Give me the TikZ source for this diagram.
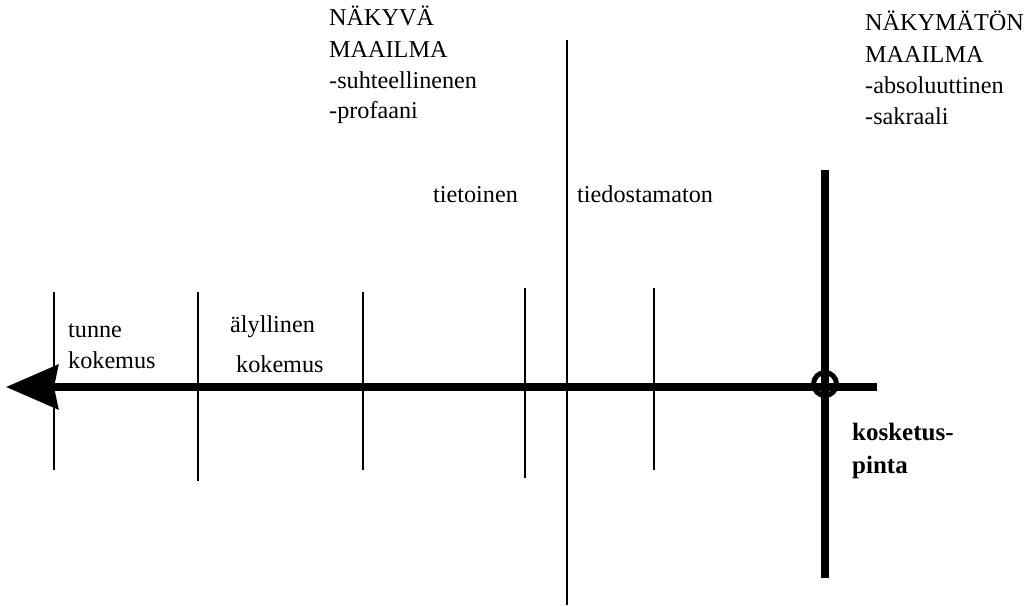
\documentclass[tikz,border=0pt]{standalone}
\usepackage{fontspec}
\setmainfont{Liberation Serif}
\usetikzlibrary{arrows.meta}
\begin{document}
\begin{tikzpicture}[x=1pt,y=-1pt,
  thin line/.style={line width=2pt},
  thick line/.style={line width=7.5pt},
  lbl/.style={anchor=base west,inner sep=0pt,font=\fontsize{24.2}{31}\selectfont},
  blbl/.style={lbl,font=\fontsize{25}{31}\selectfont\bfseries}]
\useasboundingbox (0,0) rectangle (1030,606);
% coordinates
\coordinate (hR) at (877,387);
\coordinate (hL) at (6,387);
\coordinate (c) at (825,384);
\foreach \n/\x/\ya/\yb in {a/54/292/470, b/198/292/481, c2/363/292/470, d/525/288/478, e/567/40/605, f/654/288/470}{
  \coordinate (\n t) at (\x,\ya);
  \coordinate (\n b) at (\x,\yb);
}
\coordinate (vT) at (825,170);
\coordinate (vB) at (825,578);
% thin vertical lines
\foreach \n in {a,b,c2,d,e,f}{ \draw[thin line] (\n t) -- (\n b); }
% thick vertical
\draw[thick line] (vT) -- (vB);
% main arrow
\draw[thick line,-{Stealth[length=52pt,width=44pt,inset=4pt]}] (hR) -- (hL);
% circle
\draw[line width=5pt] (c) circle[radius=11.5];
% texts
\node[lbl] (n1) at (329,25) {NÄKYVÄ};
\node[lbl] (n2) at (329,57) {MAAILMA};
\node[lbl] (n3) at (329,88) {-suhteellinenen};
\node[lbl] (n4) at (329,118) {-profaani};
\node[lbl] (m1) at (865,30) {NÄKYMÄTÖN};
\node[lbl] (m2) at (865,62) {MAAILMA};
\node[lbl] (m3) at (865,93) {-absoluuttinen};
\node[lbl] (m4) at (865,124) {-sakraali};
\node[lbl] (t1) at (433,202) {tietoinen};
\node[lbl] (t2) at (577,202) {tiedostamaton};
\node[lbl] (k1) at (68,337) {tunne};
\node[lbl] (k2) at (68,368) {kokemus};
\node[lbl] (k3) at (230,332) {älyllinen};
\node[lbl] (k4) at (236,372) {kokemus};
\node[blbl] (p1) at (852,440) {kosketus-};
\node[blbl] (p2) at (852,473) {pinta};
\end{tikzpicture}
\end{document}
